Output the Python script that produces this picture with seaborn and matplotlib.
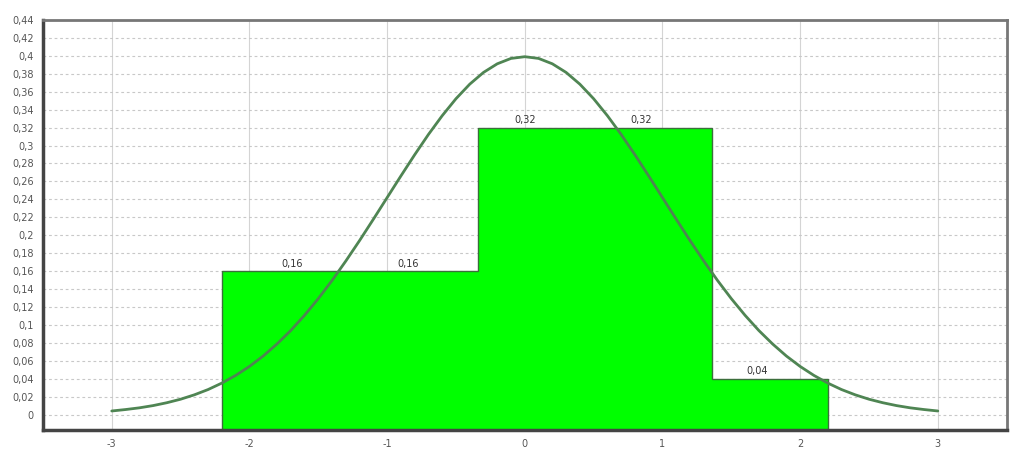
import numpy as np
import matplotlib
matplotlib.use('Agg')
import matplotlib.pyplot as plt
import seaborn as sns
from matplotlib.ticker import FuncFormatter, MultipleLocator

# Histogram bars (edges and heights)
bin_edges = [-2.2, -0.34, 1.36, 2.2]
bin_heights = [0.16, 0.32, 0.04]

# Value labels printed above the bars
label_x = [-1.69, -0.845, 0.0, 0.845, 1.69]
label_vals = [0.16, 0.16, 0.32, 0.32, 0.04]

# Density curve (step 0.1)
curve_x = [round(-3.0 + 0.1 * i, 1) for i in range(61)]
half_y = [0.0044, 0.0060, 0.0079, 0.0104, 0.0136, 0.0175, 0.0224, 0.0283,
          0.0355, 0.0440, 0.0540, 0.0656, 0.0790, 0.0940, 0.1109, 0.1295,
          0.1497, 0.1714, 0.1942, 0.2179, 0.2420, 0.2661, 0.2897, 0.3123,
          0.3332, 0.3521, 0.3683, 0.3814, 0.3910, 0.3970, 0.3989]
curve_y = half_y + half_y[-2::-1]

sns.set_style('white')
plt.rcParams['font.family'] = ['DejaVu Sans']

fig = plt.figure(figsize=(10.22, 4.5), dpi=100)
ax = fig.add_axes([0.042, 0.044, 0.943, 0.912])

y_bottom = -0.017
ax.set_xlim(-3.5, 3.5)
ax.set_ylim(y_bottom, 0.44)

# grid
ax.yaxis.set_major_locator(MultipleLocator(0.02))
ax.xaxis.set_major_locator(MultipleLocator(1))
ax.xaxis.set_minor_locator(MultipleLocator(0.25))
ax.grid(axis='y', color='#c8c8c8', linestyle=(0, (2.5, 2.5)), linewidth=0.8)
ax.grid(axis='x', which='major', color='#d4d4d4', linestyle='-', linewidth=0.8)
ax.set_axisbelow(True)

# bars extend down to the bottom of the plot frame, outlined as one shape
lefts = np.array(bin_edges[:-1])
widths = np.diff(bin_edges)
heights = np.array(bin_heights)
ax.bar(lefts, heights - y_bottom, width=widths, bottom=y_bottom, align='edge',
       color='#00ff00', linewidth=0, zorder=2)
ax.stairs(heights, bin_edges, baseline=y_bottom, color='#3c6e3c',
          linewidth=1.0, zorder=2.5)

sns.lineplot(x=curve_x, y=curve_y, ax=ax, color='#4f8553', linewidth=2.0,
             zorder=3)

for xv, v in zip(label_x, label_vals):
    ax.text(xv, v + 0.003, f'{v:.2f}'.replace('.', ','), ha='center',
            va='bottom', fontsize=7, color='#333333', zorder=4)

def y_fmt(v, pos):
    s = f'{v:.2f}'.rstrip('0').rstrip('.')
    if s in ('-0', ''):
        s = '0'
    return s.replace('.', ',')

ax.yaxis.set_major_formatter(FuncFormatter(y_fmt))
ax.xaxis.set_major_formatter(FuncFormatter(lambda v, p: f'{v:.0f}'))
ax.tick_params(axis='both', labelsize=7, colors='#555555', length=3)
ax.tick_params(axis='x', which='minor', length=2, color='#999999')

for sp in ax.spines.values():
    sp.set_color('#444444')
    sp.set_linewidth(2.5)
ax.spines['top'].set_color('#777777')
ax.spines['right'].set_color('#777777')
ax.spines['top'].set_linewidth(2)
ax.spines['right'].set_linewidth(2)

fig.savefig('out.png', dpi=100)
